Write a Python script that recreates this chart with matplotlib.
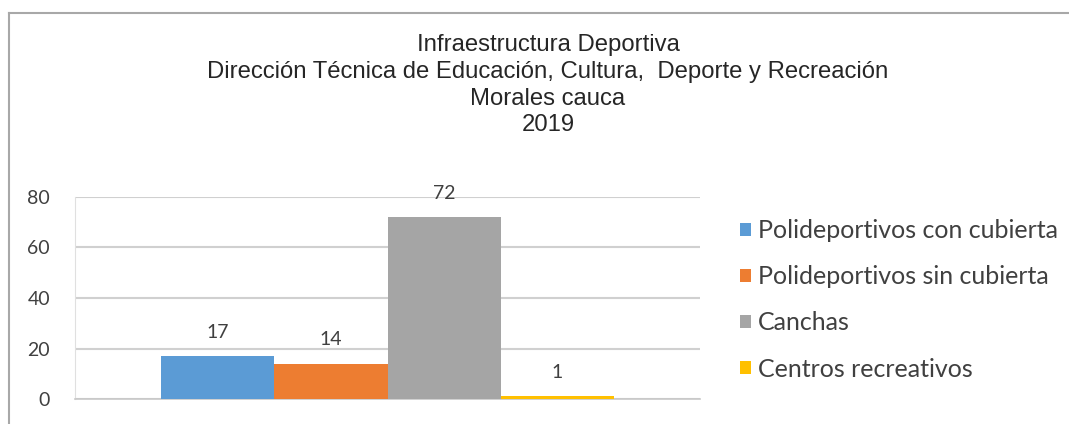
import matplotlib
matplotlib.use("Agg")
import matplotlib.pyplot as plt
from matplotlib.lines import Line2D
from matplotlib.patches import Patch

categories = ["Polideportivos con cubierta", "Polideportivos sin cubierta", "Canchas", "Centros recreativos"]
values = [17, 14, 72, 1]
colors = ["#5B9BD5", "#ED7D31", "#A5A5A5", "#FFC000"]
yticks = [0, 20, 40, 60, 80]
title_lines = ["Infraestructura Deportiva",
               "Dirección Técnica de Educación, Cultura,  Deporte y Recreación",
               "Morales cauca",
               "2019"]

W, H = 1069, 424
fig = plt.figure(figsize=(W / 100, H / 100), dpi=100)
fig.patch.set_facecolor("white")

ax = fig.add_axes([75 / W, 1 - 399 / H, 625 / W, (399 - 197) / H])
positions = [-1.5, -0.5, 0.5, 1.5]
bars = ax.bar(positions, values, width=1.0, color=colors, zorder=3)
for p, v in zip(positions, values):
    ax.annotate(str(v), (p, v), xytext=(0, 11), textcoords="offset points",
                ha="center", va="bottom", fontsize=14, family="Lato", color="#404040")

ax.set_xlim(-2.765, 2.765)
ax.set_ylim(0, 80)
ax.set_yticks(yticks)
ax.set_yticklabels([str(t) for t in yticks], fontsize=14, family="Lato", color="#404040")
ax.tick_params(axis="y", length=0, pad=18)
ax.set_xticks([])
ax.yaxis.grid(True, color="#D0D0D0", linewidth=1.5, zorder=0)
for s in ["top", "right"]:
    ax.spines[s].set_visible(False)
ax.spines["left"].set_color("#E0E0E0")
ax.spines["bottom"].set_color("#C8C8C8")
ax.spines["bottom"].set_linewidth(1.2)

# title
ys = [45, 72, 99, 125]
for t, y in zip(title_lines, ys):
    fig.text(548 / W, 1 - y / H, t, ha="center", va="center", fontsize=17.2,
             family="Liberation Sans", color="#262626")

# legend
handles = [Patch(facecolor=c, edgecolor="none") for c in colors]
leg = fig.legend(handles, categories, loc="upper left", bbox_to_anchor=(730 / W, 1 - 209 / H),
                 frameon=False, prop={"family": "Lato", "size": 18}, labelcolor="#404040",
                 handlelength=0.42, handleheight=0.42, handletextpad=0.3, labelspacing=0.93,
                 borderaxespad=0)

# outer frame (left and top edges visible)
fig.add_artist(Line2D([9 / W, 9 / W], [0, 1 - 13 / H], transform=fig.transFigure, color="#A8A8A8", lw=1.5))
fig.add_artist(Line2D([9 / W, 1], [1 - 13 / H, 1 - 13 / H], transform=fig.transFigure, color="#A8A8A8", lw=1.5))

fig.savefig("out.png", dpi=100)
